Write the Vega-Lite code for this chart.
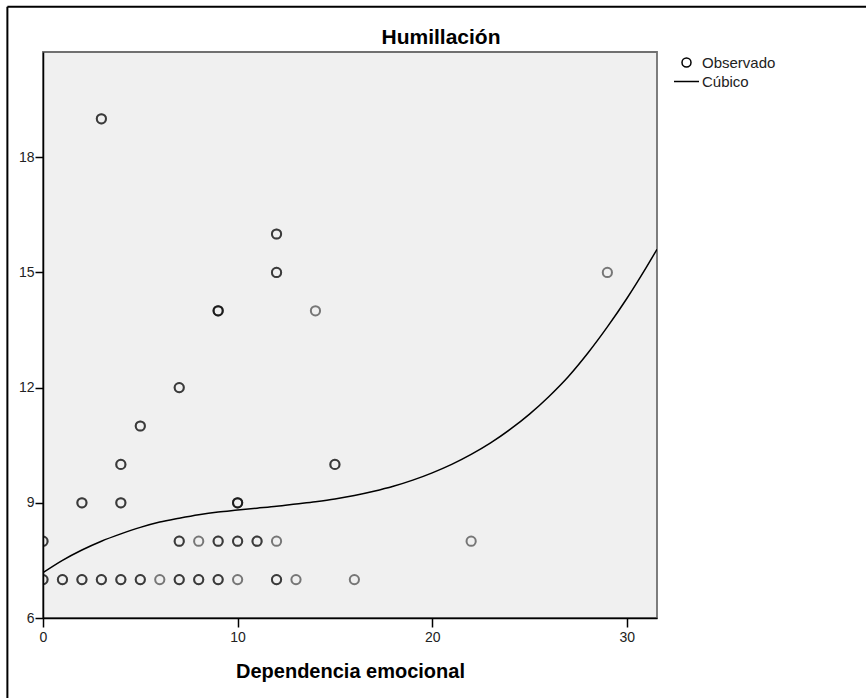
{
  "$schema": "https://vega.github.io/schema/vega-lite/v6.json",
  "width": 614,
  "height": 566,
  "autosize": {"type": "none"},
  "padding": {"left": 43, "top": 52, "right": 209, "bottom": 80},
  "background": "white",
  "title": {"text": "Humillación", "font": "Liberation Sans", "fontSize": 21, "fontWeight": "bold", "color": "#000", "anchor": "middle", "frame": "group", "dx": 91, "offset": -42},
  "config": {
    "view": {"fill": "#f0f0f0", "stroke": "#707070", "strokeWidth": 1.8},
    "font": "Liberation Sans"
  },
  "datasets": {
    "obs": [
      {"x": 0, "y": 7, "serie": "Observado"}, {"x": 0, "y": 7, "serie": "Observado"},
      {"x": 1, "y": 7, "serie": "Observado"}, {"x": 1, "y": 7, "serie": "Observado"},
      {"x": 2, "y": 7, "serie": "Observado"}, {"x": 2, "y": 7, "serie": "Observado"},
      {"x": 3, "y": 7, "serie": "Observado"}, {"x": 3, "y": 7, "serie": "Observado"},
      {"x": 4, "y": 7, "serie": "Observado"}, {"x": 4, "y": 7, "serie": "Observado"},
      {"x": 5, "y": 7, "serie": "Observado"}, {"x": 5, "y": 7, "serie": "Observado"},
      {"x": 6, "y": 7, "serie": "Observado"},
      {"x": 7, "y": 7, "serie": "Observado"}, {"x": 7, "y": 7, "serie": "Observado"},
      {"x": 8, "y": 7, "serie": "Observado"}, {"x": 8, "y": 7, "serie": "Observado"},
      {"x": 9, "y": 7, "serie": "Observado"}, {"x": 9, "y": 7, "serie": "Observado"},
      {"x": 10, "y": 7, "serie": "Observado"},
      {"x": 12, "y": 7, "serie": "Observado"}, {"x": 12, "y": 7, "serie": "Observado"},
      {"x": 13, "y": 7, "serie": "Observado"},
      {"x": 16, "y": 7, "serie": "Observado"},
      {"x": 0, "y": 8, "serie": "Observado"}, {"x": 0, "y": 8, "serie": "Observado"},
      {"x": 7, "y": 8, "serie": "Observado"}, {"x": 7, "y": 8, "serie": "Observado"},
      {"x": 8, "y": 8, "serie": "Observado"},
      {"x": 9, "y": 8, "serie": "Observado"}, {"x": 9, "y": 8, "serie": "Observado"},
      {"x": 10, "y": 8, "serie": "Observado"}, {"x": 10, "y": 8, "serie": "Observado"},
      {"x": 11, "y": 8, "serie": "Observado"}, {"x": 11, "y": 8, "serie": "Observado"},
      {"x": 12, "y": 8, "serie": "Observado"},
      {"x": 22, "y": 8, "serie": "Observado"},
      {"x": 2, "y": 9, "serie": "Observado"}, {"x": 2, "y": 9, "serie": "Observado"},
      {"x": 4, "y": 9, "serie": "Observado"}, {"x": 4, "y": 9, "serie": "Observado"},
      {"x": 10, "y": 9, "serie": "Observado"}, {"x": 10, "y": 9, "serie": "Observado"}, {"x": 10, "y": 9, "serie": "Observado"},
      {"x": 4, "y": 10, "serie": "Observado"}, {"x": 4, "y": 10, "serie": "Observado"},
      {"x": 15, "y": 10, "serie": "Observado"}, {"x": 15, "y": 10, "serie": "Observado"},
      {"x": 5, "y": 11, "serie": "Observado"}, {"x": 5, "y": 11, "serie": "Observado"},
      {"x": 7, "y": 12, "serie": "Observado"}, {"x": 7, "y": 12, "serie": "Observado"},
      {"x": 9, "y": 14, "serie": "Observado"}, {"x": 9, "y": 14, "serie": "Observado"}, {"x": 9, "y": 14, "serie": "Observado"},
      {"x": 14, "y": 14, "serie": "Observado"},
      {"x": 12, "y": 15, "serie": "Observado"}, {"x": 12, "y": 15, "serie": "Observado"},
      {"x": 29, "y": 15, "serie": "Observado"},
      {"x": 12, "y": 16, "serie": "Observado"}, {"x": 12, "y": 16, "serie": "Observado"},
      {"x": 3, "y": 19, "serie": "Observado"}, {"x": 3, "y": 19, "serie": "Observado"}
    ],
    "curve": [
      {"x": 0, "y": 7.18}, {"x": 1, "y": 7.5}, {"x": 2, "y": 7.77}, {"x": 3, "y": 8.0},
      {"x": 4, "y": 8.19}, {"x": 5, "y": 8.36}, {"x": 6, "y": 8.5}, {"x": 7, "y": 8.6},
      {"x": 8, "y": 8.69}, {"x": 9, "y": 8.76}, {"x": 10, "y": 8.81}, {"x": 11, "y": 8.86},
      {"x": 12, "y": 8.91}, {"x": 13, "y": 8.97}, {"x": 14, "y": 9.03}, {"x": 15, "y": 9.1},
      {"x": 16, "y": 9.19}, {"x": 17, "y": 9.3}, {"x": 18, "y": 9.43}, {"x": 19, "y": 9.59},
      {"x": 20, "y": 9.78}, {"x": 21, "y": 10.0}, {"x": 22, "y": 10.26}, {"x": 23, "y": 10.56},
      {"x": 24, "y": 10.91}, {"x": 25, "y": 11.31}, {"x": 26, "y": 11.77}, {"x": 27, "y": 12.29},
      {"x": 28, "y": 12.9}, {"x": 29, "y": 13.58}, {"x": 30, "y": 14.32}, {"x": 31, "y": 15.13},
      {"x": 31.55, "y": 15.6}
    ]
  },
  "layer": [
    {
      "data": {"name": "obs"},
      "mark": {"type": "point", "filled": false, "stroke": "#000", "strokeWidth": 2, "strokeOpacity": 0.72, "size": 85, "clip": true},
      "encoding": {
        "x": {"field": "x", "type": "quantitative",
          "scale": {"domain": [0, 31.55], "nice": false, "zero": false},
          "axis": {"values": [0, 10, 20, 30], "title": "Dependencia emocional", "titleFont": "Liberation Sans", "titleFontSize": 20, "titleFontWeight": "bold", "titleColor": "#000", "titlePadding": 17,
            "labelFont": "Liberation Sans", "labelFontSize": 14, "labelColor": "#222", "labelPadding": 3, "labelFlush": false, "labelOverlap": false,
            "domainColor": "#000", "domainWidth": 1.5, "tickColor": "#000", "tickWidth": 1.5, "tickSize": 9, "grid": false}},
        "y": {"field": "y", "type": "quantitative",
          "scale": {"domain": [6, 20.74], "nice": false, "zero": false},
          "axis": {"values": [6, 9, 12, 15, 18], "title": null,
            "labelFont": "Liberation Sans", "labelFontSize": 14, "labelColor": "#222", "labelPadding": 1, "labelFlush": false, "labelOverlap": false,
            "domainColor": "#000", "domainWidth": 1.5, "tickColor": "#000", "tickWidth": 1.5, "tickSize": 8, "grid": false}},
        "shape": {"field": "serie", "type": "nominal",
          "scale": {"domain": ["Observado", "Cúbico"], "range": ["circle", "M-2.78,0L2.78,0"]},
          "legend": {"title": null, "orient": "right", "offset": 19, "padding": 3,
            "labelFont": "Liberation Sans", "labelFontSize": 15, "labelColor": "#222", "labelOffset": 8,
            "symbolSize": 81, "symbolStrokeColor": "#000", "symbolStrokeWidth": 1.5, "symbolFillColor": "transparent", "symbolOpacity": 1, "rowPadding": 3}}
      }
    },
    {
      "data": {"name": "curve"},
      "mark": {"type": "line", "color": "#000", "strokeWidth": 1.5, "interpolate": "monotone", "clip": true},
      "encoding": {
        "x": {"field": "x", "type": "quantitative"},
        "y": {"field": "y", "type": "quantitative"}
      }
    },
    {
      "data": {"values": [{}]},
      "mark": {"type": "rule", "color": "#000", "strokeWidth": 2},
      "encoding": {
        "x": {"datum": -1.83, "type": "quantitative"},
        "y": {"datum": 21.92, "type": "quantitative"},
        "y2": {"datum": 3.5}
      }
    },
    {
      "data": {"values": [{}]},
      "mark": {"type": "rule", "color": "#000", "strokeWidth": 2},
      "encoding": {
        "x": {"datum": -1.83, "type": "quantitative"},
        "x2": {"datum": 45},
        "y": {"datum": 21.92, "type": "quantitative"}
      }
    }
  ]
}
